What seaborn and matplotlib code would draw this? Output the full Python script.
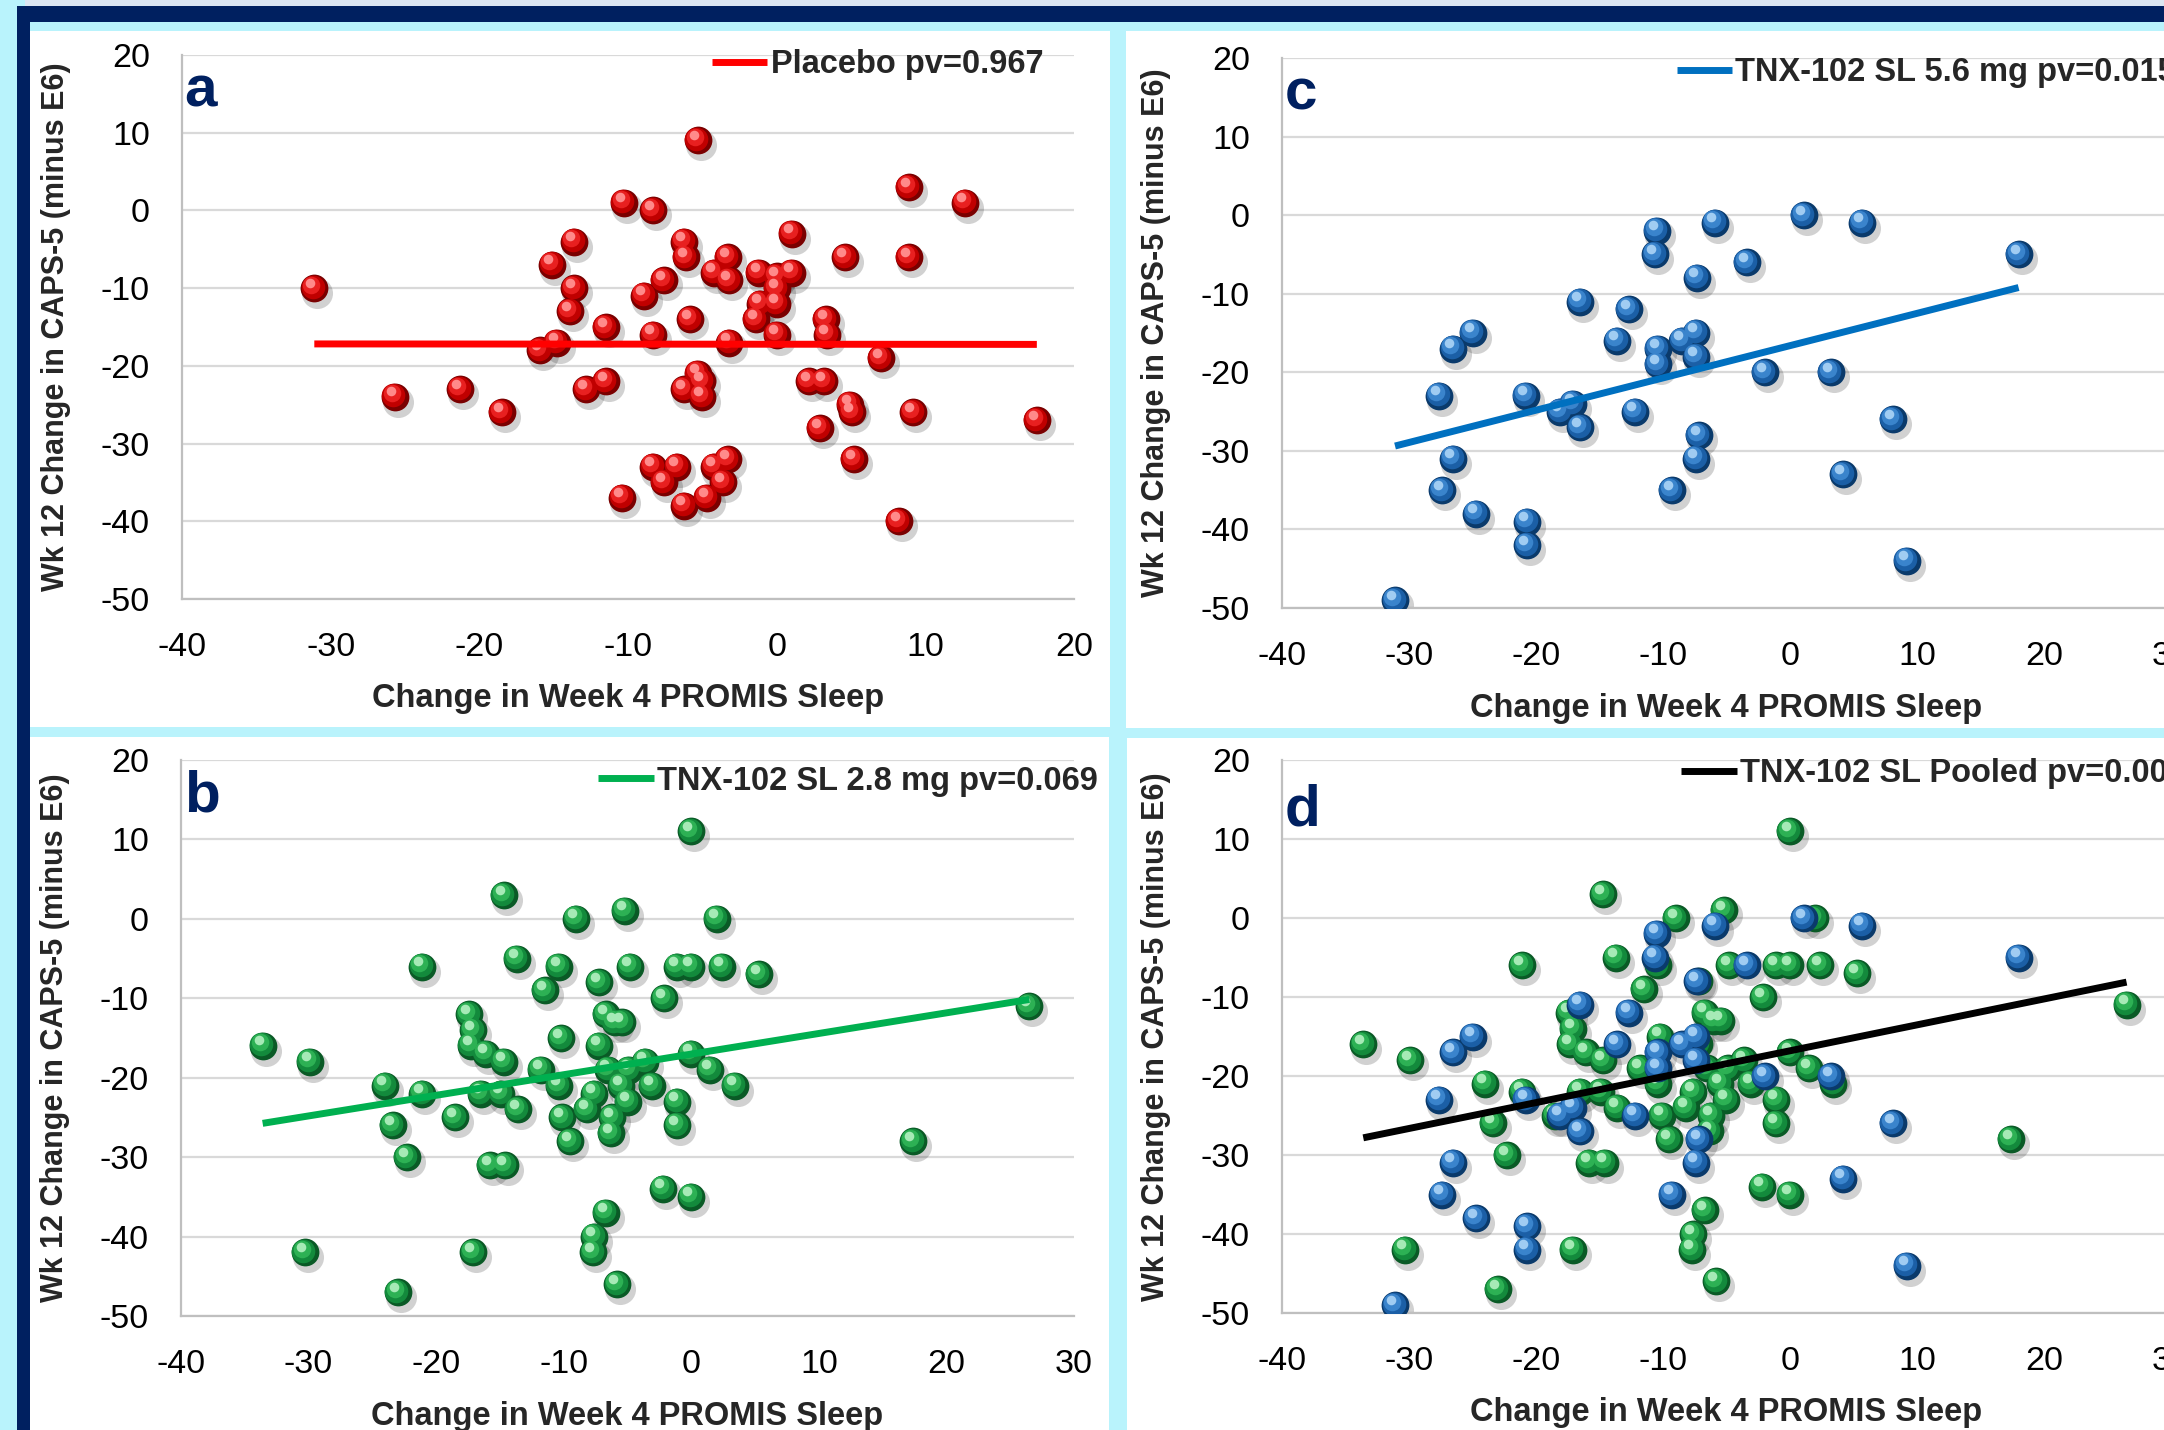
import matplotlib
matplotlib.use("Agg")
import matplotlib.pyplot as plt
from matplotlib.patches import Rectangle
from matplotlib.transforms import offset_copy
import seaborn as sns
import pandas as pd

# panel a: placebo
placebo_x = [-31.1, -25.7, -21.3, -18.5, -15.9, -14.8, -15.1, -13.6, -13.6, -13.9,
             -12.8, -11.5, -11.5, -10.3, -10.4, -8.3, -8.9, -8.3, -7.6, -8.3,
             -7.6, -6.7, -6.2, -6.2, -6.1, -5.8, -6.2, -5.3, -5.3, -5.0,
             -5.0, -4.7, -4.2, -3.3, -3.2, -4.2, -3.3, -3.6, -3.2, -1.2,
             -1.1, -1.4, 0.0, 0.0, 0.0, 0.0, 1.0, 1.0, 2.2, 3.2,
             2.9, 3.3, 3.4, 4.6, 4.9, 5.1, 5.2, 7.0, 8.2, 8.9,
             8.9, 9.2, 12.7, 17.5]
placebo_y = [-10, -24, -23, -26, -18, -17, -7, -4, -10, -13,
             -23, -15, -22, 1, -37, 0, -11, -16, -9, -33,
             -35, -33, -38, -4, -6, -14, -23, 9, -21, -22,
             -24, -37, -8, -6, -9, -33, -32, -35, -17, -8,
             -12, -14, -8.5, -10, -12, -16, -3, -8, -22, -22,
             -28, -14, -16, -6, -25, -26, -32, -19, -40, 3,
             -6, -26, 1, -27]

# panel b: TNX-102 SL 2.8 mg
low_x = [-33.6, -29.9, -30.3, -24.0, -23.4, -23.0, -22.3, -21.1, -21.1, -18.5,
         -17.4, -17.1, -17.3, -16.1, -16.5, -15.8, -14.7, -14.7, -14.9, -14.6,
         -17.1, -13.7, -13.6, -11.8, -11.5, -10.4, -10.2, -10.4, -10.1, -9.5,
         -9.0, -8.2, -7.6, -7.6, -7.7, -7.2, -6.7, -7.2, -6.7, -6.5,
         -6.3, -6.2, -6.0, -5.5, -5.4, -5.8, -5.2, -4.8, -5.0, -4.9,
         -3.6, -3.1, -2.2, -2.1, -1.1, -1.1, -1.1, 0.0, 0.0, 0.0,
         0.0, 1.5, 2.0, 2.4, 3.4, 5.3, 17.4, 26.5]
low_y = [-16, -18, -42, -21, -26, -47, -30, -6, -22, -25,
         -12, -14, -16, -17, -22, -31, 3, -18, -22, -31,
         -42, -5, -24, -19, -9, -6, -15, -21, -25, -28,
         0, -24, -22, -40, -42, -8, -12, -16, -37, -19,
         -27, -25, -13, -21, -13, -46, 1, -6, -23, -19,
         -18, -21, -34, -10, -6, -23, -26, 11, -6, -17,
         -35, -19, 0, -6, -21, -7, -28, -11]

# panel c: TNX-102 SL 5.6 mg
high_x = [-31.1, -27.6, -27.4, -26.5, -26.5, -25.0, -24.7, -20.8, -20.7, -20.7,
          -18.1, -17.1, -16.5, -16.5, -13.6, -12.7, -12.2, -10.5, -10.6, -10.4,
          -10.4, -9.3, -8.5, -7.4, -7.4, -7.3, -7.2, -7.4, -5.9, -3.4,
          -2.0, 1.1, 3.2, 4.2, 5.7, 8.1, 9.2, 18.0]
high_y = [-49, -23, -35, -17, -31, -15, -38, -23, -39, -42,
          -25, -24, -27, -11, -16, -12, -25, -2, -5, -17,
          -19, -35, -16, -15, -18, -8, -28, -31, -1, -6,
          -20, 0, -20, -33, -1, -26, -44, -5]

x_title = "Change in Week 4 PROMIS Sleep"
y_title = "Wk 12 Change in CAPS-5 (minus E6)"

W, H = 2164, 1430
CYAN = "#B9F3FC"
NAVY = "#002060"
S = 400

RED = ["#7A0000", "#C00000", "#E82020", "#FF8A8A"]
BLUE = ["#0A3A6B", "#1B5FA6", "#3A84CC", "#A0CCF2"]
GREEN = ["#0A5A26", "#138A3C", "#2DB154", "#A6EAB6"]

sns.set_style("white")
plt.rcParams["font.family"] = ["Liberation Sans", "DejaVu Sans"]
plt.rcParams["axes.unicode_minus"] = False


def px_rect(fig, x0, y0, x1, y1, color):
    fig.add_artist(Rectangle((x0 / W, 1 - y1 / H), (x1 - x0) / W, (y1 - y0) / H,
                             transform=fig.transFigure, facecolor=color,
                             edgecolor="none", zorder=0))


def px_axes(fig, x0, y0, x1, y1):
    return fig.add_axes([x0 / W, 1 - y1 / H, (x1 - x0) / W, (y1 - y0) / H])


def spheres(ax, x, y, shades):
    fig = ax.figure
    df = pd.DataFrame({"x": x, "y": y})
    sns.scatterplot(data=df, x="x", y="y", ax=ax, s=S * 1.25, color="black",
                    alpha=0.18, linewidth=0, zorder=2,
                    transform=offset_copy(ax.transData, fig=fig, x=3, y=-5, units="dots"))
    layers = [(1.0, 0, 0), (0.72, -1.5, 1.5), (0.40, -3, 3.5), (0.12, -4, 5.5)]
    for (scale, dx, dy), c in zip(layers, shades):
        sns.scatterplot(data=df, x="x", y="y", ax=ax, s=S * scale, color=c,
                        linewidth=0, zorder=3,
                        transform=offset_copy(ax.transData, fig=fig, x=dx, y=dy, units="dots"))


fig = plt.figure(figsize=(W / 100, H / 100), dpi=100, facecolor=CYAN)

# frame decoration
px_rect(fig, 25, 0, W, 6, "#DCE6F2")
px_rect(fig, 17, 6, W, 22, NAVY)
px_rect(fig, 17, 6, 30, H, NAVY)
px_rect(fig, 30, 31, 1110, 727, "white")
px_rect(fig, 1126, 31, W, 728, "white")
px_rect(fig, 30, 737, 1109, H, "white")
px_rect(fig, 1127, 738, W, H, "white")

panels = [
    dict(box=(182, 55, 1074, 599), xmax=20, groups=[(placebo_x, placebo_y, RED)],
         fit=(placebo_x, placebo_y), line="#FF0000", text="Placebo pv=0.967",
         leg=(0.594, 0.982), letter="a", letter_y=0.906),
    dict(box=(1282, 58, 2171, 608), xmax=30, groups=[(high_x, high_y, BLUE)],
         fit=(high_x, high_y), line="#0070C0", text="TNX-102 SL 5.6 mg pv=0.015",
         leg=(0.444, 0.973), letter="c", letter_y=0.907),
    dict(box=(181, 760, 1074, 1316), xmax=30, groups=[(low_x, low_y, GREEN)],
         fit=(low_x, low_y), line="#00B050", text="TNX-102 SL 2.8 mg pv=0.069",
         leg=(0.467, 0.962), letter="b", letter_y=0.908),
    dict(box=(1282, 760, 2171, 1313), xmax=30,
         groups=[(low_x, low_y, GREEN), (high_x, high_y, BLUE)],
         fit=(low_x + high_x, low_y + high_y), line="#000000",
         text="TNX-102 SL Pooled pv=0.003",
         leg=(0.449, 0.975), letter="d", letter_y=0.882),
]

for p in panels:
    x0, y0, x1, y1 = p["box"]
    ax = px_axes(fig, x0, y0, x1, y1)
    ax.set_facecolor("white")
    ax.set_axisbelow(True)
    for gx, gy, shades in p["groups"]:
        spheres(ax, gx, gy, shades)
    fx, fy = p["fit"]
    sns.regplot(x=fx, y=fy, ax=ax, scatter=False, ci=None, truncate=True,
                color=p["line"],
                line_kws={"lw": 5, "zorder": 5, "solid_capstyle": "butt"})
    fit_line = ax.lines[-1]

    ax.set_xlim(-40, p["xmax"])
    ax.set_ylim(-50, 20)
    ax.set_xticks(range(-40, p["xmax"] + 1, 10))
    ax.set_yticks(range(-50, 21, 10))
    ax.grid(axis="y", color="#D9D9D9", lw=1.6)
    ax.grid(axis="x", visible=False)
    for side in ["top", "right"]:
        ax.spines[side].set_visible(False)
    for side in ["left", "bottom"]:
        ax.spines[side].set_color("#BFBFBF")
        ax.spines[side].set_linewidth(1.6)
    ax.tick_params(axis="both", length=0, labelsize=24.5, labelcolor="black")
    ax.tick_params(axis="x", pad=24)
    ax.tick_params(axis="y", pad=23)

    ax.set_xlabel(x_title, fontsize=23.5, fontweight="bold", va="center")
    ax.xaxis.set_label_coords(0.5, -100 / (y1 - y0))
    ax.set_ylabel(y_title, fontsize=22, fontweight="bold", va="center")
    ax.yaxis.set_label_coords(-126 / (x1 - x0), 0.5)

    ax.legend(handles=[fit_line], labels=[p["text"]],
              loc="center left", bbox_to_anchor=p["leg"], frameon=False,
              handlelength=1.7, handletextpad=0.1, borderpad=0, borderaxespad=0,
              prop={"family": "Liberation Sans", "weight": "bold", "size": 23.5})

    ax.text(0.003, p["letter_y"], p["letter"], transform=ax.transAxes,
            fontsize=42, fontweight="bold", color=NAVY, ha="left", va="baseline")

fig.savefig("out.png", dpi=100, facecolor=CYAN)
